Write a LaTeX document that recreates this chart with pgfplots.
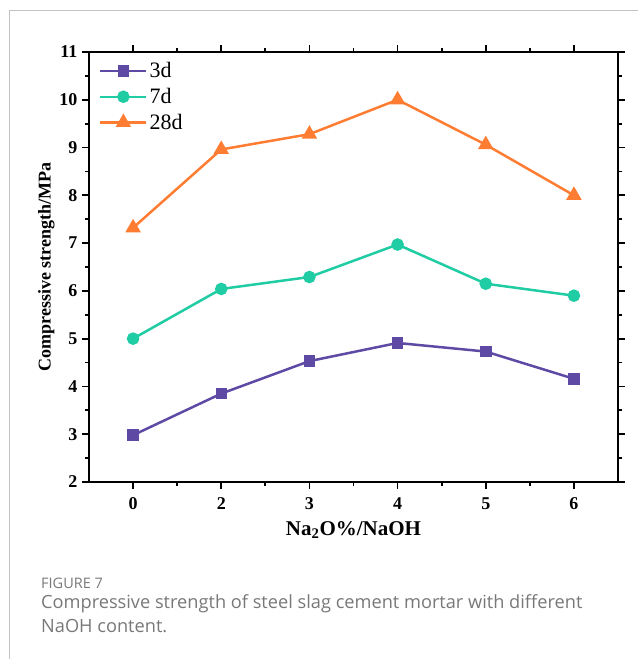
\documentclass[border=0pt]{standalone}
\usepackage{pgfplots}
\pgfplotsset{compat=1.18}
\usepackage{fontspec}
\setmainfont{Liberation Serif}
\newfontfamily\capfont{Open Sans}

\definecolor{cthree}{RGB}{94,74,165}
\definecolor{cseven}{RGB}{32,204,163}
\definecolor{ctwenty}{RGB}{255,125,50}
\definecolor{framegray}{RGB}{195,195,195}
\definecolor{capgray}{RGB}{120,120,120}

\begin{document}
\begin{tikzpicture}[x=1bp,y=1bp]
\useasboundingbox (0,0) rectangle (638,659);
% page frame
\draw[framegray, line width=1bp] (9,0) -- (9,648) -- (638,648);

\begin{axis}[
  at={(89bp,177bp)}, anchor=south west,
  width=529bp, height=430bp, scale only axis,
  xmin=-0.5, xmax=5.5, ymin=2, ymax=11,
  xtick={0,1,2,3,4,5},
  xticklabels={0,2,3,4,5,6},
  ytick={2,3,4,5,6,7,8,9,10,11},
  minor x tick num=1, minor y tick num=1,
  tick align=outside,
  major tick length=7bp, minor tick length=4bp,
  every tick/.style={black, line width=1.8bp},
  axis line style={black, line width=2.6bp},
  tick label style={font=\fontsize{18bp}{20bp}\selectfont\bfseries},
  /pgf/number format/assume math mode=true,
  xticklabel style={yshift=-5bp},
  yticklabel style={xshift=-1bp},
  xlabel={Na\textsubscript{2}O\%/NaOH},
  ylabel={Compressive strength/MPa},
  xlabel style={font=\fontsize{21bp}{24bp}\selectfont\bfseries, yshift=-5bp},
  ylabel style={font=\fontsize{18bp}{22bp}\selectfont\bfseries, yshift=-2bp},
  legend style={draw=none, fill=none, at={(0.015,0.985)}, anchor=north west,
    font=\fontsize{22bp}{24bp}\selectfont, row sep=5bp,
    legend cell align=left, inner sep=2bp},
  legend image code/.code={%
    \draw[#1, line width=2.5bp] (0bp,0bp) -- (46bp,0bp);
    \draw[#1, only marks] plot coordinates {(23bp,0bp)};},
]
\addplot[cthree, line width=2.5bp, mark=square*, mark size=4.5bp, mark options={solid}]
  coordinates {(0,2.98) (1,3.85) (2,4.53) (3,4.91) (4,4.73) (5,4.16)};
\addlegendentry{3d}
\addplot[cseven, line width=2.5bp, mark=*, mark size=5bp]
  coordinates {(0,5.00) (1,6.04) (2,6.29) (3,6.97) (4,6.15) (5,5.90)};
\addlegendentry{7d}
\addplot[ctwenty, line width=2.5bp, mark=triangle*, mark size=6.5bp]
  coordinates {(0,7.32) (1,8.96) (2,9.28) (3,10.00) (4,9.06) (5,8.00)};
\addlegendentry{28d}
\end{axis}

\node[anchor=base west, inner sep=0, text=capgray, font=\capfont\fontsize{14.5bp}{16bp}\selectfont] at (41,70) {FIGURE 7};
\node[anchor=base west, inner sep=0, text=capgray, font=\capfont\fontsize{18.2bp}{20bp}\selectfont] at (41,50) {Compressive strength of steel slag cement mortar with different};
\node[anchor=base west, inner sep=0, text=capgray, font=\capfont\fontsize{18.2bp}{20bp}\selectfont] at (41,26) {NaOH content.};
\end{tikzpicture}
\end{document}
